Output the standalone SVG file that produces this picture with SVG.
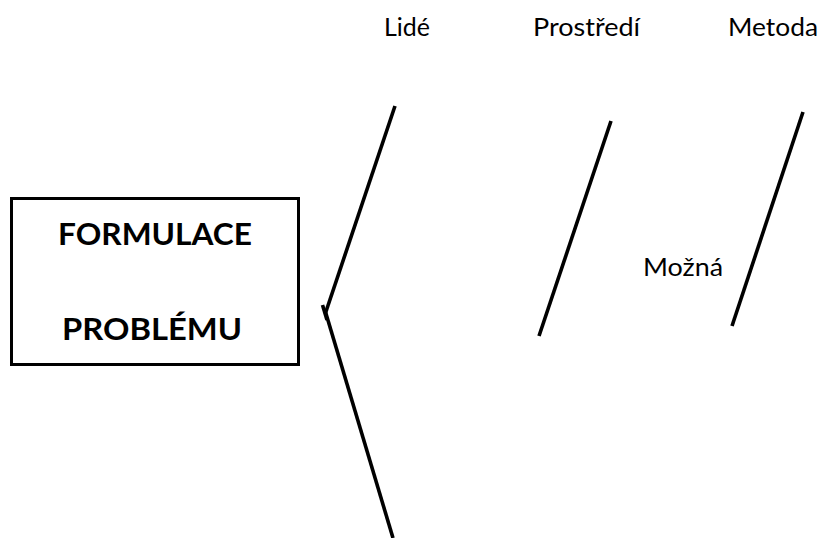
<svg xmlns="http://www.w3.org/2000/svg" width="823" height="538" viewBox="0 0 823 538">
<style>
.lbl{font-family:Lato,"Open Sans","Liberation Sans",sans-serif;font-size:25px;fill:#000}
.ttl{font-family:Lato,"Open Sans","Liberation Sans",sans-serif;font-size:31px;font-weight:bold;fill:#000}
.ln{stroke:#000;stroke-width:3.6;fill:none;stroke-linecap:butt}
</style>
<rect width="823" height="538" fill="#fff"/>
<g id="problem">
<rect x="11.5" y="198.5" width="287" height="166" fill="#fff" stroke="#000" stroke-width="3"/>
<text class="ttl" x="58" y="245" textLength="194" lengthAdjust="spacingAndGlyphs">FORMULACE</text>
<text class="ttl" x="62" y="340" textLength="180" lengthAdjust="spacingAndGlyphs">PROBLÉMU</text>
</g>
<g id="label-lide"><text class="lbl" x="384" y="35.5" textLength="46" lengthAdjust="spacingAndGlyphs">Lidé</text></g>
<g id="label-prostredi"><text class="lbl" x="533" y="35.5" textLength="107" lengthAdjust="spacingAndGlyphs">Prostředí</text></g>
<g id="label-metoda"><text class="lbl" x="728" y="35.5" textLength="90" lengthAdjust="spacingAndGlyphs">Metoda</text></g>
<g id="label-mozna"><text class="lbl" x="643" y="276" textLength="80" lengthAdjust="spacingAndGlyphs">Možná</text></g>
<g id="connectors">
<line class="ln" x1="395" y1="106" x2="325.5" y2="313"/>
<line class="ln" x1="325.5" y1="312" x2="393" y2="538"/>
<line class="ln" x1="322.5" y1="305" x2="327" y2="320"/>
<line class="ln" x1="611" y1="121" x2="539" y2="336"/>
<line class="ln" x1="803" y1="112" x2="732" y2="326"/>
</g>
</svg>
